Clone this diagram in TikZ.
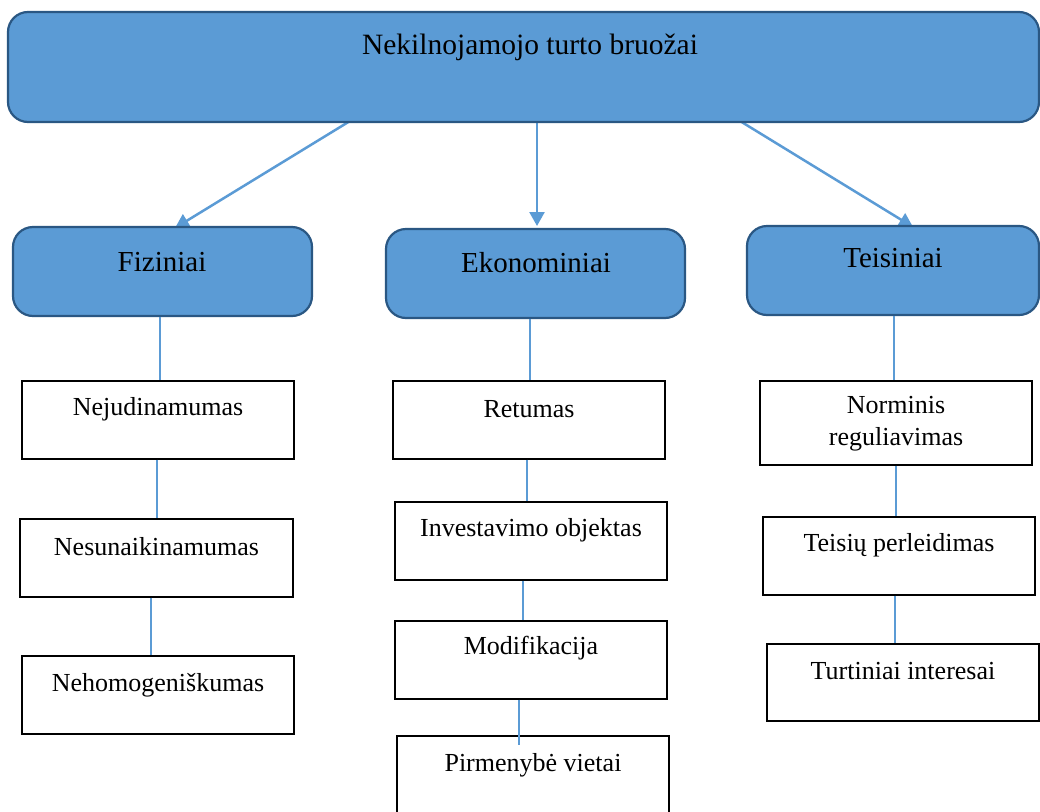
\documentclass[tikz,border=0pt]{standalone}
\usepackage{fontspec}
\setmainfont{Liberation Serif}
\usetikzlibrary{arrows.meta}
\pgfdeclarelayer{bg}
\pgfsetlayers{bg,main}
\definecolor{boxblue}{HTML}{5B9BD5}
\definecolor{boxedge}{HTML}{2A5783}
\tikzset{
  bluebox/.style={draw=boxedge, fill=boxblue, line width=2.2pt, rounded corners=20pt, inner sep=0pt},
  whitebox/.style={draw=black, fill=white, line width=1.2pt, inner sep=0pt, minimum width=272pt, minimum height=78pt},
  bodytxt/.style={font=\fontsize{26}{32}\selectfont, align=center, inner sep=0pt},
  headtxt/.style={font=\fontsize{29}{34}\selectfont, inner sep=0pt},
  titletxt/.style={font=\fontsize{29.5}{36}\selectfont, inner sep=0pt},
  conn/.style={draw=boxblue, line width=1.2pt},
  arr/.style={draw=boxblue, line width=2.5pt, -{Triangle[length=14pt,width=15pt]}}
}
\begin{document}
\begin{tikzpicture}[x=1pt,y=-1pt]
\useasboundingbox (0,0) rectangle (1040,811);
% top
\node[bluebox, minimum width=1031pt, minimum height=110pt] (top) at (523.5,67) {};
\node[titletxt] (toptxt) at (530,47) {Nekilnojamojo turto bruožai};
% category boxes
\node[bluebox, minimum width=299pt, minimum height=89pt] (fiz) at (162.5,271.5) {};
\node[headtxt] (fiztxt) at (162,262) {Fiziniai};
\node[bluebox, minimum width=299pt, minimum height=89pt] (eko) at (535.5,273.5) {};
\node[headtxt] (ekotxt) at (536,263) {Ekonominiai};
\node[bluebox, minimum width=292pt, minimum height=89pt] (tei) at (893,270.5) {};
\node[headtxt] (teitxt) at (893,258) {Teisiniai};
% white boxes
\node[whitebox] (f1) at (158,420) {};
\node[bodytxt] (f1t) at (158,409) {Nejudinamumas};
\node[whitebox, minimum width=273pt] (f2) at (156.5,558) {};
\node[bodytxt] (f2t) at (156.5,547) {Nesunaikinamumas};
\node[whitebox] (f3) at (158,695) {};
\node[bodytxt] (f3t) at (158,685) {Nehomogeniškumas};
\node[whitebox] (e1) at (529,420) {};
\node[bodytxt] (e1t) at (529,409) {Retumas};
\node[whitebox] (e2) at (531,541) {};
\node[bodytxt] (e2t) at (531,530) {Investavimo objektas};
\node[whitebox] (e3) at (531,660) {};
\node[bodytxt] (e3t) at (531,648) {Modifikacija};
\node[whitebox, minimum height=90pt] (e4) at (533,781) {};
\node[bodytxt] (e4t) at (533,765) {Pirmenybė vietai};
\node[whitebox, minimum height=84pt] (t1) at (896,423) {};
\node[bodytxt] (t1t) at (896,424) {Norminis\\reguliavimas};
\node[whitebox] (t2) at (899,556) {};
\node[bodytxt] (t2t) at (899,545) {Teisių perleidimas};
\node[whitebox, minimum height=77pt] (t3) at (903,682.5) {};
\node[bodytxt] (t3t) at (903,671) {Turtiniai interesai};
% connector end points
\coordinate (a1s) at (350,121); \coordinate (a1e) at (175,228);
\coordinate (a2s) at (537,121); \coordinate (a2e) at (537,226);
\coordinate (a3s) at (740,121); \coordinate (a3e) at (913,227);
\begin{pgfonlayer}{bg}
\draw[arr] (a1s) -- (a1e);
\draw[arr] (a2s) -- (a2e);
\draw[arr] (a3s) -- (a3e);
\end{pgfonlayer}
\draw[conn] (fiz.south -| 160,0) -- (f1.north -| 160,0);
\draw[conn] (f1.south -| 157,0) -- (f2.north -| 157,0);
\draw[conn] (f2.south -| 151,0) -- (f3.north -| 151,0);
\draw[conn] (eko.south -| 530,0) -- (e1.north -| 530,0);
\draw[conn] (e1.south -| 527,0) -- (e2.north -| 527,0);
\draw[conn] (e2.south -| 523,0) -- (e3.north -| 523,0);
\draw[conn] (e3.south -| 519,0) -- ([yshift=-10pt]e4.north -| 519,0);
\draw[conn] (tei.south -| 894,0) -- (t1.north -| 894,0);
\draw[conn] (t1.south -| 896,0) -- (t2.north -| 896,0);
\draw[conn] (t2.south -| 895,0) -- (t3.north -| 895,0);
\end{tikzpicture}
\end{document}
